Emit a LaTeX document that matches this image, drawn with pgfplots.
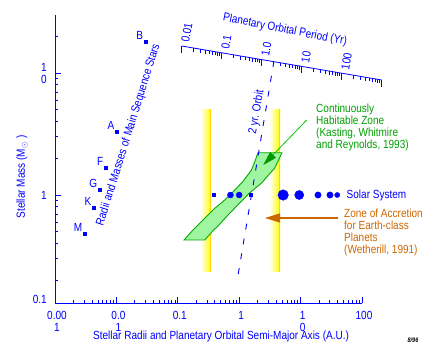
\documentclass[border=0pt]{standalone}
\usepackage{fontspec}
\setmainfont{Liberation Sans}[FakeStretch=0.85]
\usepackage{pgfplots}
\pgfplotsset{compat=1.18}
\usetikzlibrary{arrows.meta}
\definecolor{cblue}{RGB}{0,0,255}
\definecolor{cgreen}{RGB}{0,160,0}
\definecolor{hzline}{RGB}{0,170,0}
\definecolor{hzfill}{RGB}{160,245,160}
\definecolor{arrgreen}{RGB}{0,200,0}
\definecolor{headgreen}{RGB}{0,150,0}
\definecolor{corange}{RGB}{204,102,0}
\definecolor{barY}{RGB}{255,255,0}
\definecolor{barEdge}{RGB}{255,215,0}
\begin{document}
\begin{tikzpicture}[font=\fontsize{11.8bp}{12bp}\selectfont]
\useasboundingbox (0,0) rectangle (446bp,-362bp);
\begin{axis}[
  at={(55bp,-303bp)}, anchor=south west,
  scale only axis, width=307bp, height=288bp,
  xmode=log, ymode=log,
  xmin=0.001, xmax=100, ymin=0.1302, ymax=29.9,
  enlargelimits=false,
  axis lines=left,
  axis line style={cblue,-,line width=0.8bp},
  every tick/.style={cblue,line width=0.8bp},
  tick align=inside,
  major tick length=6bp, minor tick length=3.5bp,
  xtick={0.001,0.01,0.1,1,10,100},
  xticklabels={{0.00\\1},{0.0\\1},0.1,1,{1\\0},100},
  minor xtick={0.002,0.003,0.004,0.005,0.006,0.007,0.008,0.009,
               0.02,0.03,0.04,0.05,0.06,0.07,0.08,0.09,
               0.2,0.3,0.4,0.5,0.6,0.7,0.8,0.9,
               2,3,4,5,6,7,8,9,20,30,40,50,60,70,80,90},
  ytick={1,10},
  yticklabels={1,{1\\0}},
  minor ytick={0.2,0.3,0.4,0.5,0.6,0.7,0.8,0.9,2,3,4,5,6,7,8,9,20},
  extra y ticks={0.1302},
  extra y tick labels={0.1},
  extra y tick style={major tick length=0pt, yticklabel style={yshift=4bp}},
  xticklabel style={align=center, text=cblue, anchor=north, inner sep=0pt, yshift=-8bp, xshift=2bp},
  yticklabel style={align=center, text=cblue, anchor=east, inner sep=0pt, xshift=-8bp},
  xlabel={Stellar Radii and Planetary Orbital Semi-Major Axis (A.U.)},
  ylabel={Stellar Mass (M$_\odot$ )},
  xlabel style={text=cblue, at={(axis description cs:0.541,-0.1146)}, anchor=center, inner sep=0pt},
  ylabel style={text=cblue, at={(axis description cs:-0.1075,0.4375)}, anchor=center, rotate=0, inner sep=0pt},
]
% Zone of accretion bars (yellow)
\addplot[draw=none, left color=barY!12!white, right color=barY] coordinates
  {(0.2456,0.234)(0.3505,0.234)(0.3505,5.07)(0.2456,5.07)} --cycle;
\addplot[barEdge, line width=1bp] coordinates {(0.345,0.234)(0.345,5.07)};
\addplot[draw=none, left color=barY!12!white, right color=barY] coordinates
  {(3.252,0.234)(4.64,0.234)(4.64,5.07)(3.252,5.07)} --cycle;
\addplot[barEdge, line width=1bp] coordinates {(4.58,0.234)(4.58,5.07)};
% Continuously habitable zone
\addplot[fill=hzfill, draw=hzline, line width=0.9bp] coordinates {
  (0.1264,0.428)(0.275,0.428)(0.375,0.510)(0.452,0.557)(0.658,0.686)
  (1.02,0.860)(1.48,1.04)(2.30,1.25)(3.34,1.55)(3.78,1.66)(4.97,2.22)
  (2.02,2.22)(1.79,1.87)(1.58,1.60)(1.15,1.29)(0.792,1.06)(0.581,0.910)
  (0.400,0.778)(0.275,0.644)(0.177,0.517)} --cycle;
% Main sequence stars
\addplot[only marks, mark=square*, mark size=1.5bp, cblue,
  nodes near coords, point meta=explicit symbolic,
  nodes near coords style={anchor=south east, inner sep=0pt, xshift=-2.5bp, yshift=2bp, text=cblue, font=\fontsize{11.8bp}{12bp}\selectfont}]
  table[meta=lab] {
  a        m      lab
  0.0302   17.9   B
  0.0102   3.28   A
  0.00675  1.66   F
  0.0054   1.10   G
  0.0043   0.78   K
  0.00308  0.479  M
};
% Solar system planets (round)
\addplot[scatter, only marks, mark=*,
  scatter/use mapped color={draw=cblue, fill=cblue},
  visualization depends on={\thisrow{r} \as \rad},
  scatter/@pre marker code/.append style={/tikz/mark size=\rad}]
  table[x=a, y=m] {
  a     m  r
  0.72  1  3.0
  1.0   1  3.0
  5.2   1  5.3
  9.5   1  4.6
  19.2  1  3.2
  30.1  1  3.2
  39.5  1  2.6
};
% Solar system planets (small squares)
\addplot[only marks, mark=square*, mark size=1.4bp, cblue] coordinates {(0.39,1)(1.52,1)};
% 2 yr orbit
\addplot[cblue, line width=0.9bp, dash pattern=on 6bp off 9bp] coordinates {(0.965,0.225)(3.66,12.3)};
\end{axis}
\begin{scope}[x=1bp, y=-1bp]
  % period axis
  \draw[cblue, line width=0.8bp] (181.7,46) -- (381.7,80);
  \foreach \k in {0,...,5} { \draw[cblue, line width=0.8bp] (181.7+40*\k, 46+6.8*\k) -- ++(0,6.5); }
  \foreach \k in {0,...,4} { \foreach \m in {2,...,9} {
     \pgfmathsetmacro\t{\k+log10(\m)}
     \draw[cblue, line width=0.8bp] (181.7+40*\t, 46+6.8*\t) -- ++(0,3.5); } }
  \foreach \k/\lab in {0/0.01,1/0.1,2/1.0,3/10,4/100}
     \node[rotate=80.4, anchor=west, inner sep=0pt, text=cblue] at (181.7+40*\k+3.5, 46+6.8*\k-3.5) {\lab};
  \node[rotate=-11, text=cblue, inner sep=0pt] at (285,30) {Planetary Orbital Period (Yr)};
  % labels
  \node[rotate=72.6, text=cblue, inner sep=0pt] at (128.5,135) {Radii and Masses of Main Sequence Stars};
  \node[rotate=80, text=cblue, inner sep=0pt] at (256.7,112) {2 yr. Orbit};
  \node[anchor=west, text=cblue, inner sep=0pt] at (346.5,195) {Solar System};
  \node[anchor=north west, align=left, text=cgreen, inner sep=0pt] at (316,103.5)
     {Continuously\\Habitable Zone\\(Kasting, Whitmire\\and Reynolds, 1993)};
  \node[anchor=north west, align=left, text=corange, inner sep=0pt] at (344,208.5)
     {Zone of Accretion\\for Earth-class\\Planets\\(Wetherill, 1991)};
  % arrows
  \draw[arrgreen, line width=0.8bp, -{Triangle[length=14bp, width=8bp, fill=headgreen, color=headgreen]}] (306.7,120) -- (263.3,165);
  \draw[corange, line width=1.3bp, -{Triangle[length=15bp, width=9bp]}] (338,218) -- (265,218);
  \node[font=\fontsize{6.5bp}{7bp}\selectfont\bfseries\itshape, inner sep=0pt] at (413,340) {8/96};
\end{scope}
\end{tikzpicture}
\end{document}
